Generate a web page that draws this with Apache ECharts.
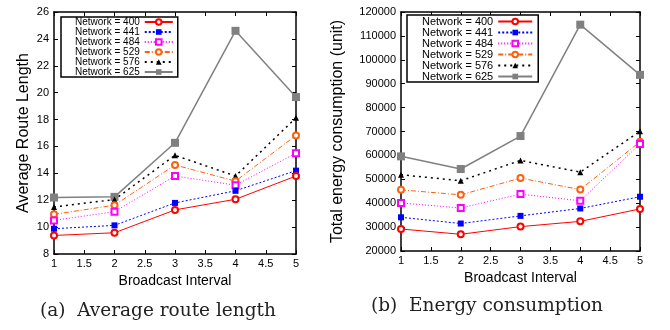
<!DOCTYPE html>
<html>
<head>
<meta charset="utf-8">
<script src="https://cdn.jsdelivr.net/npm/echarts@6/dist/echarts.min.js"></script>
<style>
  html, body { margin: 0; padding: 0; background: #fff; }
  #chart { width: 670px; height: 330px; }
</style>
</head>
<body>
<div id="chart"></div>
<script>
// broadcast interval on the x axis
const intervals = [1, 2, 3, 4, 5];
const networkNames = ['Network = 400', 'Network = 441', 'Network = 484', 'Network = 529', 'Network = 576', 'Network = 625'];

// (a) average route length
const route400 = [9.38, 9.58, 11.28, 12.07, 13.8];
const route441 = [9.88, 10.13, 11.8, 12.7, 14.2];
const route484 = [10.5, 11.15, 13.8, 13.12, 15.5];
const route529 = [10.95, 11.63, 14.62, 13.42, 16.82];
const route576 = [11.5, 12.05, 15.34, 13.8, 18.13];
const route625 = [12.2, 12.25, 16.27, 24.6, 19.67];

// (b) total energy consumption
const energy400 = [29200, 27000, 30200, 32400, 37600];
const energy441 = [34100, 31500, 34700, 37800, 42700];
const energy484 = [40100, 38000, 43800, 41000, 64800];
const energy529 = [45600, 43500, 50500, 45700, 65700];
const energy576 = [51900, 49400, 57900, 53000, 70100];
const energy625 = [59600, 54300, 68100, 114700, 93700];

const routeSeries = [route400, route441, route484, route529, route576, route625];
const energySeries = [energy400, energy441, energy484, energy529, energy576, energy625];

const font = 'Liberation Sans, Arial, sans-serif';

// one style per network size, gnuplot look
const styles = [
  { color: '#ff0000', symbol: 'emptyCircle', size: 6, line: 'solid', width: 1 },
  { color: '#0000ff', symbol: 'rect', size: 6, line: [2, 2], width: 1 },
  { color: '#ff00ff', symbol: 'emptyRect', size: 6, line: [1, 2], width: 1 },
  { color: '#ff6010', symbol: 'emptyCircle', size: 6, line: [5, 2, 1, 2], width: 1 },
  { color: '#000000', symbol: 'triangle', size: 6, line: [2, 4], width: 1.5 },
  { color: '#808080', symbol: 'rect', size: 8, line: 'solid', width: 1.5 }
];

const pairs = (ys) => intervals.map((x, i) => [x, ys[i]]);

const makeSeries = (list, axisIdx) => list.map((ys, i) => ({
  name: networkNames[i],
  type: 'line',
  xAxisIndex: axisIdx,
  yAxisIndex: axisIdx,
  data: pairs(ys),
  symbol: styles[i].symbol,
  symbolSize: styles[i].size,
  showAllSymbol: true,
  itemStyle: { color: styles[i].color, borderWidth: 1 },
  lineStyle: { color: styles[i].color, width: styles[i].width, type: styles[i].line },
  z: 10 - i
}));

const tickStyle = { show: true, inside: true, length: 4, lineStyle: { color: '#000', width: 1 } };
const borderLine = { show: true, onZero: false, lineStyle: { color: '#000', width: 1.5 } };

const xAxis = (grid, pos, labels) => ({
  type: 'value', gridIndex: grid, position: pos,
  min: 1, max: 5, interval: 0.5,
  axisLine: borderLine, axisTick: tickStyle, splitLine: { show: false },
  axisLabel: { show: labels, color: '#000', fontFamily: font, fontSize: 11, margin: 4 },
  name: labels ? 'Broadcast Interval' : '', nameLocation: 'middle', nameGap: 18,
  nameTextStyle: { color: '#000', fontFamily: font, fontSize: 14 }
});

const yAxis = (grid, pos, labels, min, max, step, title, gap) => ({
  type: 'value', gridIndex: grid, position: pos,
  min: min, max: max, interval: step,
  axisLine: borderLine, axisTick: tickStyle, splitLine: { show: false },
  axisLabel: { show: labels, color: '#000', fontFamily: font, fontSize: 11, margin: 5, formatter: (v) => String(v) },
  name: labels ? title : '', nameLocation: 'middle', nameGap: gap,
  nameTextStyle: { color: '#000', fontFamily: font, fontSize: 16 }
});

const legend = (left, top, size, pad, width) => ({
  orient: 'vertical', left: left, top: top, align: 'right',
  data: networkNames,
  backgroundColor: '#fff', borderColor: '#000', borderWidth: 1.5,
  padding: pad, itemGap: 0, itemWidth: width, itemHeight: 7,
  selectedMode: false,
  textStyle: { color: '#000', fontFamily: font, fontSize: size, lineHeight: size, padding: [0, 0, 0, 0] }
});

const chart = echarts.init(document.getElementById('chart'), null, { renderer: 'canvas' });
chart.setOption({
  animation: false,
  grid: [
    { left: 54, right: 374, top: 12, bottom: 76 },
    { left: 401, right: 30, top: 12, bottom: 79 }
  ],
  xAxis: [xAxis(0, 'bottom', true), xAxis(1, 'bottom', true), xAxis(0, 'top', false), xAxis(1, 'top', false)],
  yAxis: [
    yAxis(0, 'left', true, 8, 26, 2, 'Average Route Length', 22),
    yAxis(1, 'left', true, 20000, 120000, 10000, 'Total energy consumption (unit)', 55),
    yAxis(0, 'right', false, 8, 26, 2, '', 0),
    yAxis(1, 'right', false, 20000, 120000, 10000, '', 0)
  ],
  legend: [legend(61, 17, 10, [0, 4, 0, 14], 28), legend(407, 15, 11, [1, 5, 0, 15], 34)],
  series: makeSeries(routeSeries, 0).concat(makeSeries(energySeries, 1)),
  graphic: [
    { type: 'text', left: 40, top: 302, style: { text: '(a)  Average route length', font: '18.5px "DejaVu Serif", serif', fill: '#222' } },
    { type: 'text', left: 371, top: 297, style: { text: '(b)  Energy consumption', font: '18.5px "DejaVu Serif", serif', fill: '#222' } }
  ]
});
</script>
</body>
</html>
